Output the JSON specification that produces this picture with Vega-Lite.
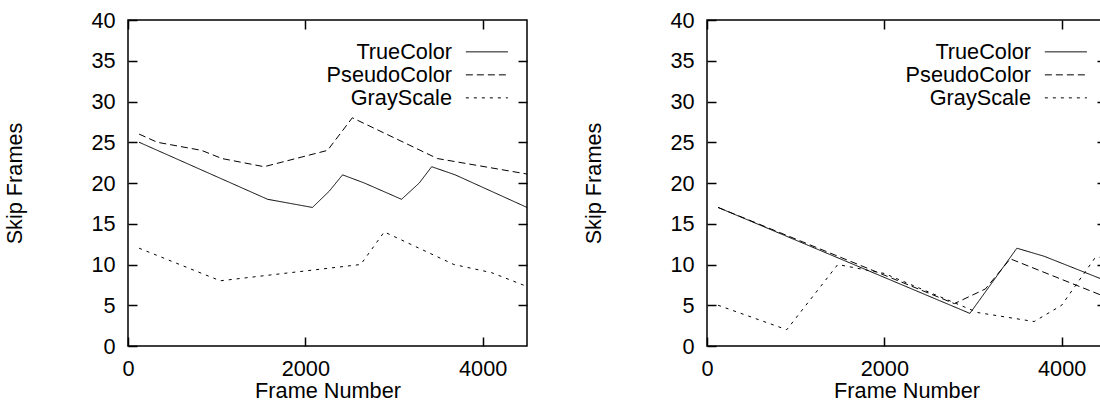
{
  "$schema": "https://vega.github.io/schema/vega-lite/v6.json",
  "padding": {"left": 4, "top": 9, "right": 0, "bottom": 0},
  "background": "white",
  "config": {
    "font": "Liberation Sans",
    "view": {"stroke": "black", "strokeWidth": 1.5},
    "axis": {
      "labelFontSize": 21.7,
      "titleFontSize": 21.7,
      "titleFontWeight": "normal",
      "labelColor": "black",
      "titleColor": "black",
      "tickColor": "black",
      "tickSize": 9,
      "offset": -9,
      "tickWidth": 1.5,
      "domain": false,
      "grid": false,
      "labelFlush": false,
      "format": "d"
    },
    "axisBottom": {"labelPadding": 12, "titlePadding": 1},
    "axisLeft": {"labelPadding": 13, "titlePadding": 64},
    "legend": {
      "orient": "none",
      "legendX": 348,
      "legendY": 21,
      "title": null,
      "symbolType": "M-4.2,0H4.2",
      "symbolSize": 100,
      "symbolStrokeWidth": 1,
      "symbolStrokeColor": "black",
      "symbolOpacity": 1,
      "labelFontSize": 21.7,
      "labelColor": "black",
      "labelAlign": "right",
      "labelOffset": -45.7,
      "labelLimit": 0,
      "rowPadding": 0,
      "padding": 0
    }
  },
  "datasets": {
    "left": [
      {"series": "TrueColor", "frame": 125, "skip": 25},
      {"series": "TrueColor", "frame": 1575, "skip": 18},
      {"series": "TrueColor", "frame": 2080, "skip": 17},
      {"series": "TrueColor", "frame": 2270, "skip": 19},
      {"series": "TrueColor", "frame": 2420, "skip": 21},
      {"series": "TrueColor", "frame": 2665, "skip": 20},
      {"series": "TrueColor", "frame": 3085, "skip": 18},
      {"series": "TrueColor", "frame": 3285, "skip": 20},
      {"series": "TrueColor", "frame": 3425, "skip": 22},
      {"series": "TrueColor", "frame": 3690, "skip": 21},
      {"series": "TrueColor", "frame": 4500, "skip": 17},
      {"series": "PseudoColor", "frame": 125, "skip": 26},
      {"series": "PseudoColor", "frame": 330, "skip": 25},
      {"series": "PseudoColor", "frame": 830, "skip": 24},
      {"series": "PseudoColor", "frame": 1060, "skip": 23},
      {"series": "PseudoColor", "frame": 1535, "skip": 22},
      {"series": "PseudoColor", "frame": 2250, "skip": 24},
      {"series": "PseudoColor", "frame": 2530, "skip": 28},
      {"series": "PseudoColor", "frame": 3490, "skip": 23},
      {"series": "PseudoColor", "frame": 4500, "skip": 21.1},
      {"series": "GrayScale", "frame": 125, "skip": 12},
      {"series": "GrayScale", "frame": 1040, "skip": 8},
      {"series": "GrayScale", "frame": 2625, "skip": 10},
      {"series": "GrayScale", "frame": 2890, "skip": 14},
      {"series": "GrayScale", "frame": 3675, "skip": 10},
      {"series": "GrayScale", "frame": 4100, "skip": 9},
      {"series": "GrayScale", "frame": 4500, "skip": 7.3}
    ],
    "right": [
      {"series": "TrueColor", "frame": 125, "skip": 17},
      {"series": "TrueColor", "frame": 2965, "skip": 4},
      {"series": "TrueColor", "frame": 3495, "skip": 12},
      {"series": "TrueColor", "frame": 3805, "skip": 11},
      {"series": "TrueColor", "frame": 4500, "skip": 8},
      {"series": "PseudoColor", "frame": 125, "skip": 17},
      {"series": "PseudoColor", "frame": 2790, "skip": 5.2},
      {"series": "PseudoColor", "frame": 3140, "skip": 7},
      {"series": "PseudoColor", "frame": 3420, "skip": 10.7},
      {"series": "PseudoColor", "frame": 4500, "skip": 6},
      {"series": "GrayScale", "frame": 125, "skip": 5},
      {"series": "GrayScale", "frame": 900, "skip": 2},
      {"series": "GrayScale", "frame": 1475, "skip": 10},
      {"series": "GrayScale", "frame": 2000, "skip": 8.9},
      {"series": "GrayScale", "frame": 3055, "skip": 4.1},
      {"series": "GrayScale", "frame": 3690, "skip": 3},
      {"series": "GrayScale", "frame": 4000, "skip": 5},
      {"series": "GrayScale", "frame": 4375, "skip": 10.8},
      {"series": "GrayScale", "frame": 4500, "skip": 11}
    ]
  },
  "bounds": "flush",
  "spacing": 180,
  "resolve": {
    "scale": {"x": "independent", "y": "independent", "strokeDash": "independent"},
    "legend": {"strokeDash": "independent"}
  },
  "hconcat": [
    {
      "width": 399,
      "height": 326,
      "data": {"name": "left"},
      "layer": [
        {
          "mark": {"type": "line", "color": "black", "strokeWidth": 1, "clip": true},
          "encoding": {
            "x": {"field": "frame", "type": "quantitative", "scale": {"domain": [0, 4500], "nice": false, "zero": false}, "axis": {"orient": "bottom", "title": "Frame Number", "values": [0, 2000, 4000]}},
            "y": {"field": "skip", "type": "quantitative", "scale": {"domain": [0, 40], "nice": false}, "axis": {"orient": "left", "title": "Skip Frames", "values": [0, 5, 10, 15, 20, 25, 30, 35, 40]}},
            "strokeDash": {"field": "series", "type": "nominal", "scale": {"domain": ["TrueColor", "PseudoColor", "GrayScale"], "range": [[1, 0], [7, 4], [3, 5]]}}
          }
        },
        {
          "mark": {"type": "line", "opacity": 0},
          "encoding": {
            "x": {"field": "frame", "type": "quantitative", "axis": {"orient": "top", "labels": false, "title": null, "values": [0, 2000, 4000]}},
            "y": {"field": "skip", "type": "quantitative", "axis": {"orient": "right", "labels": false, "title": null, "values": [5, 10, 15, 20, 25, 30, 35]}},
            "detail": {"field": "series"}
          }
        }
      ],
      "resolve": {"axis": {"x": "independent", "y": "independent"}}
    },
    {
      "width": 399,
      "height": 326,
      "data": {"name": "right"},
      "layer": [
        {
          "mark": {"type": "line", "color": "black", "strokeWidth": 1, "clip": true},
          "encoding": {
            "x": {"field": "frame", "type": "quantitative", "scale": {"domain": [0, 4500], "nice": false, "zero": false}, "axis": {"orient": "bottom", "title": "Frame Number", "values": [0, 2000, 4000]}},
            "y": {"field": "skip", "type": "quantitative", "scale": {"domain": [0, 40], "nice": false}, "axis": {"orient": "left", "title": "Skip Frames", "values": [0, 5, 10, 15, 20, 25, 30, 35, 40]}},
            "strokeDash": {"field": "series", "type": "nominal", "scale": {"domain": ["TrueColor", "PseudoColor", "GrayScale"], "range": [[1, 0], [7, 4], [3, 5]]}}
          }
        },
        {
          "mark": {"type": "line", "opacity": 0},
          "encoding": {
            "x": {"field": "frame", "type": "quantitative", "axis": {"orient": "top", "labels": false, "title": null, "values": [0, 2000, 4000]}},
            "y": {"field": "skip", "type": "quantitative", "axis": {"orient": "right", "labels": false, "title": null, "values": [5, 10, 15, 20, 25, 30, 35]}},
            "detail": {"field": "series"}
          }
        }
      ],
      "resolve": {"axis": {"x": "independent", "y": "independent"}}
    }
  ]
}
